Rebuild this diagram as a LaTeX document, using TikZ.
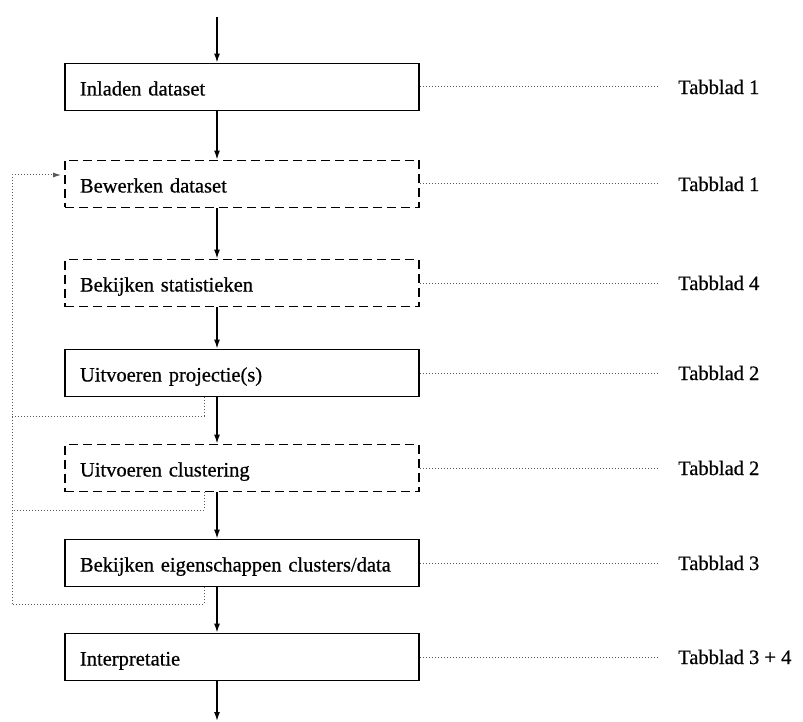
\documentclass[tikz,border=0pt]{standalone}
\usepackage{fontspec}
\setmainfont{Liberation Serif}[FakeBold=0.6]
\usetikzlibrary{arrows.meta}
\begin{document}
\begin{tikzpicture}[x=1pt,y=-1pt,
  stepbox/.style={draw, line width=1.8pt, text width=324pt, align=left, inner xsep=15pt, inner ysep=0pt,
    text height=17pt, text depth=0pt,
    minimum height=47pt, font=\fontsize{20.5}{24}\selectfont},
  dashbox/.style={stepbox, dash pattern=on 9pt off 5pt},
  tablabel/.style={anchor=west, inner xsep=21pt, inner ysep=2pt, font=\fontsize{20.5}{24}\selectfont},
  flow/.style={line width=1.4pt, -{Latex[length=9pt,width=6pt]}},
  dotline/.style={line width=1pt, black!65, dash pattern=on 1pt off 2pt},
  fb/.style={dotline}
]
\useasboundingbox (0,0) rectangle (803,722);
\node[stepbox] (b1) at (242,87) {Inladen dataset};
\node[dashbox] (b2) at (242,184) {Bewerken dataset};
\node[dashbox] (b3) at (242,283) {Bekijken statistieken};
\node[stepbox] (b4) at (242,373) {Uitvoeren projectie(s)};
\node[dashbox] (b5) at (242,468) {Uitvoeren clustering};
\node[stepbox] (b6) at (242,563) {Bekijken eigenschappen clusters/data};
\node[stepbox] (b7) at (242,657) {Interpretatie};

\node[tablabel] (t1) at (657,87) {Tabblad 1};
\node[tablabel] (t2) at (657,184) {Tabblad 1};
\node[tablabel] (t3) at (657,283) {Tabblad 4};
\node[tablabel] (t4) at (657,373) {Tabblad 2};
\node[tablabel] (t5) at (657,468) {Tabblad 2};
\node[tablabel] (t6) at (657,563) {Tabblad 3};
\node[tablabel] (t7) at (657,657) {Tabblad 3 + 4};

\foreach \i in {1,...,7} \draw[dotline] (b\i.east) -- (t\i.west);

\coordinate (spine) at (217,0);
\coordinate (start) at (217,17);
\coordinate (end) at (217,721);
\draw[flow] (start) -- (spine |- b1.north);
\draw[flow] (spine |- b1.south) -- (spine |- b2.north);
\draw[flow] (spine |- b2.south) -- (spine |- b3.north);
\draw[flow] (spine |- b3.south) -- (spine |- b4.north);
\draw[flow] (spine |- b4.south) -- (spine |- b5.north);
\draw[flow] (spine |- b5.south) -- (spine |- b6.north);
\draw[flow] (spine |- b6.south) -- (spine |- b7.north);
\draw[flow] (spine |- b7.south) -- (end);

\coordinate (fbx) at (204,0);
\coordinate (L4) at (12,416);
\coordinate (L5) at (12,510);
\coordinate (L6) at (12,604);
\coordinate (Ltop) at (12,175);
\draw[fb] (fbx |- b4.south) |- (L4);
\draw[fb] (fbx |- b5.south) |- (L5);
\draw[fb] (fbx |- b6.south) |- (L6);
\draw[fb, -{Latex[length=8pt,width=5pt]}, shorten >=3pt] (L6) -- (Ltop) -- (Ltop -| b2.west);
\end{tikzpicture}
\end{document}
